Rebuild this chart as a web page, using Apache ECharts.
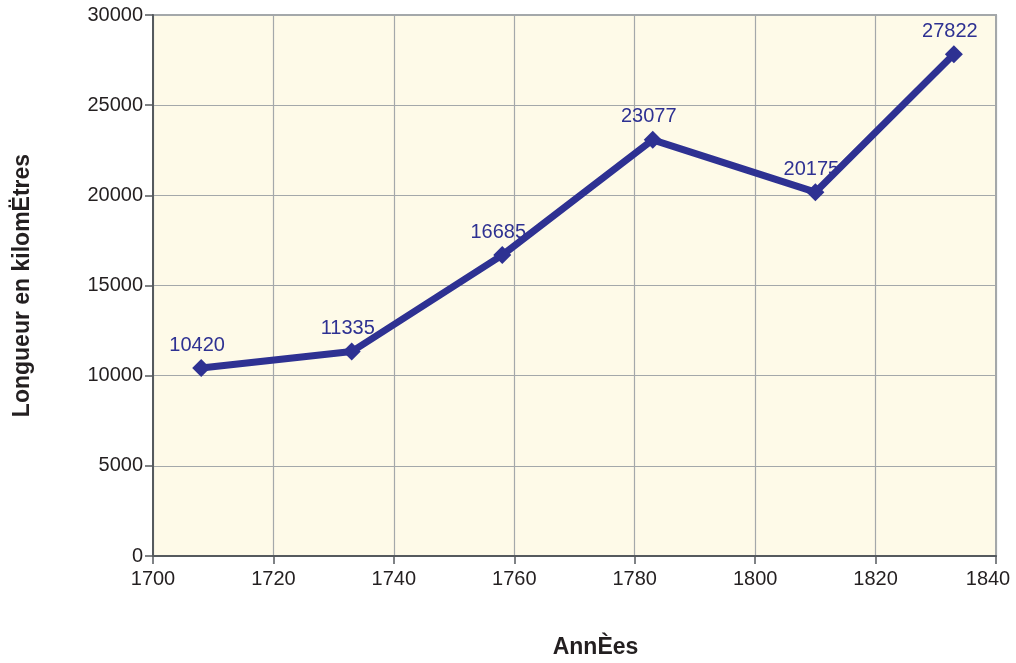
<!DOCTYPE html>
<html>
<head>
<meta charset="utf-8">
<script src="https://cdn.jsdelivr.net/npm/echarts@6/dist/echarts.min.js"></script>
<style>
  html, body { margin: 0; padding: 0; background: #ffffff; }
  #main { width: 1016px; height: 663px; }
</style>
</head>
<body>
<div id="main"></div>
<script>
// annees et longueurs (km)
var annees = [1708, 1733, 1758, 1783, 1810, 1833];
var longueurs = [10420, 11335, 16685, 23077, 20175, 27822];

var points = [];
for (var i = 0; i < annees.length; i++) {
    points.push([annees[i], longueurs[i]]);
}

var myChart = echarts.init(document.getElementById('main'));
var option = {
    backgroundColor: '#ffffff',
    animation: false,
    textStyle: { fontFamily: 'Liberation Sans, Arial, sans-serif' },
    grid: {
        left: 153,
        top: 15,
        right: 20,
        bottom: 107,
        containLabel: false,
        outerBoundsMode: 'none',
        show: true,
        backgroundColor: '#fefae8',
        borderColor: '#a4a8aa',
        borderWidth: 2
    },
    xAxis: {
        type: 'value',
        min: 1700,
        max: 1840,
        interval: 20,
        name: 'AnnÈes',
        nameLocation: 'middle',
        nameGap: 80,
        nameTextStyle: { fontSize: 23, fontWeight: 'bold', color: '#231f20', padding: [0, 0, 0, 42] },
        axisLine: { show: true, lineStyle: { color: '#555a5e', width: 2 } },
        axisTick: { show: true, length: 8, lineStyle: { color: '#555a5e', width: 1.5 } },
        axisLabel: {
            fontSize: 20, color: '#231f20', margin: 13,
            // le dernier libelle est decale vers la gauche comme dans l'original
            formatter: function (v) { return v === 1840 ? '{last|' + v + '}' : String(v); },
            rich: {
                last: { fontSize: 20, color: '#231f20', padding: [0, 16, 0, 0] }
            }
        },
        splitLine: { show: true, lineStyle: { color: '#a4a8aa', width: 1.2 } }
    },
    yAxis: {
        type: 'value',
        min: 0,
        max: 30000,
        interval: 5000,
        name: 'Longueur en kilomËtres',
        nameLocation: 'middle',
        nameGap: 119,
        nameTextStyle: { fontSize: 23, fontWeight: 'bold', color: '#231f20' },
        axisLine: { show: true, lineStyle: { color: '#555a5e', width: 2 } },
        axisTick: { show: true, length: 8, lineStyle: { color: '#555a5e', width: 1.5 } },
        axisLabel: {
            fontSize: 20, color: '#231f20', margin: 10,
            formatter: function (v) { return String(v); }
        },
        splitLine: { show: true, lineStyle: { color: '#a4a8aa', width: 1.2 } }
    },
    series: [
        {
            type: 'line',
            data: points,
            symbol: 'diamond',
            symbolSize: 18,
            lineStyle: { color: '#2e3192', width: 7 },
            itemStyle: { color: '#2e3192' },
            label: {
                show: true,
                position: 'top',
                distance: 4,
                offset: [-4, 0],
                fontSize: 20,
                color: '#2e3192'
            }
        }
    ]
};
myChart.setOption(option);
</script>
</body>
</html>
